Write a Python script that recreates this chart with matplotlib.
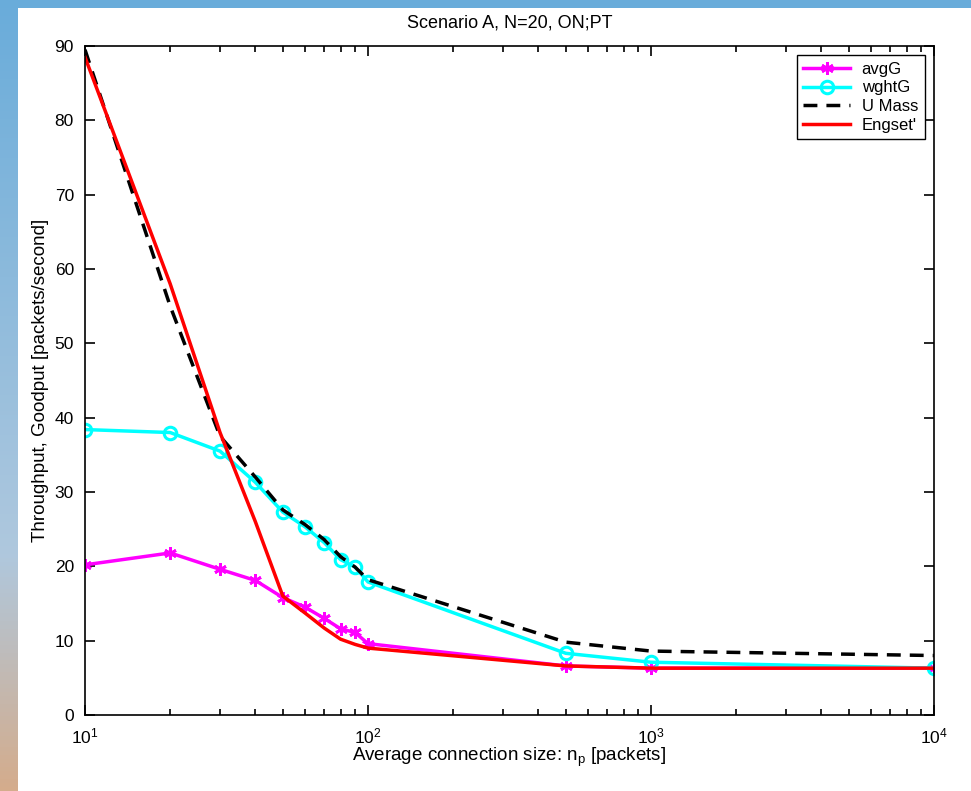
import numpy as np
import matplotlib
matplotlib.use("Agg")
import matplotlib.pyplot as plt
from matplotlib.patches import Rectangle
from matplotlib.ticker import LogLocator

# connection sizes (packets)
n_p = [10, 20, 30, 40, 50, 60, 70, 80, 90, 100, 500, 1000, 10000]

avgG = [20.2, 21.8, 19.6, 18.1, 15.8, 14.5, 13.0, 11.6, 11.1, 9.6, 6.6, 6.3, 6.3]
wghtG = [38.4, 38.0, 35.5, 31.3, 27.3, 25.3, 23.2, 20.9, 19.9, 17.9, 8.3, 7.1, 6.3]
umass = [89.5, 55.0, 37.5, 32.0, 27.6, 25.6, 23.6, 21.3, 19.9, 18.2, 9.8, 8.6, 8.0]
engset = [88.5, 58.0, 38.0, 26.0, 16.0, 13.7, 11.7, 10.2, 9.5, 9.0, 6.6, 6.3, 6.3]

series_labels = ["avgG", "wghtG", "U Mass", "Engset'"]
y_ticks = list(range(0, 91, 10))

plt.rcParams["font.family"] = ["Liberation Sans", "DejaVu Sans"]
plt.rcParams["mathtext.fontset"] = "custom"
plt.rcParams["mathtext.rm"] = "Liberation Sans"
plt.rcParams["mathtext.it"] = "Liberation Sans"

W, H = 971, 791
fig = plt.figure(figsize=(W / 100, H / 100), dpi=100)

# slide background: blue top, blue->tan down the left edge
bg = fig.add_axes([0, 0, 1, 1])
bg.set_axis_off()
top = np.array([105, 172, 218]) / 255
mid = np.array([175, 200, 222]) / 255
bot = np.array([212, 172, 140]) / 255
t = np.linspace(0, 1, 200)[:, None]
grad = np.where(t < 0.7, top + (mid - top) * (t / 0.7), mid + (bot - mid) * ((t - 0.7) / 0.3))
bg.imshow(grad[:, None, :], aspect="auto", extent=[0, 1, 0, 1], origin="upper")
bg.add_patch(Rectangle((18 / W, 0), 1, 1 - 8 / H, facecolor="white", edgecolor="none"))
bg.set_xlim(0, 1)
bg.set_ylim(0, 1)

ax = fig.add_axes([85 / W, 1 - 715 / H, (934 - 85) / W, (715 - 46) / H])

lw = 2.5
ax.plot(n_p, avgG, color="#ff00ff", lw=lw, marker=(6, 2, 0), ms=9, mew=2, label=series_labels[0])
ax.plot(n_p, wghtG, color="#00ffff", lw=lw, marker="o", ms=9, mfc="none", mew=2.2, label=series_labels[1])
ax.plot(n_p, umass, color="black", lw=lw, dashes=(4, 2.6), label=series_labels[2])
ax.plot(n_p, engset, color="#ff0000", lw=lw, label=series_labels[3])

ax.set_xscale("log")
ax.set_xlim(10, 10000)
ax.set_ylim(0, 90)
ax.set_yticks(y_ticks)
ax.xaxis.set_minor_locator(LogLocator(base=10, subs=np.arange(2, 10)))
ax.tick_params(which="both", direction="in", top=True, right=True, labelsize=12.5, width=1.2)
ax.tick_params(which="major", length=7, pad=8)
ax.tick_params(which="minor", length=4)
for s in ax.spines.values():
    s.set_linewidth(1.2)

ax.set_title("Scenario A, N=20, ON;PT", fontsize=13, pad=13)
ax.set_xlabel(r"Average connection size: $\mathregular{n_p}$ [packets]", fontsize=13.5, labelpad=0)
ax.set_ylabel("Throughput, Goodput [packets/second]", fontsize=13.5, labelpad=4)

leg = ax.legend(loc="upper right", bbox_to_anchor=(0.989, 0.9865), borderaxespad=0,
                fontsize=12, fancybox=False, framealpha=1, handlelength=2.8,
                borderpad=0.4, labelspacing=0.22, handletextpad=0.7)
leg.get_frame().set_edgecolor("black")
leg.get_frame().set_linewidth(1.0)

fig.savefig("out.png", dpi=100)
